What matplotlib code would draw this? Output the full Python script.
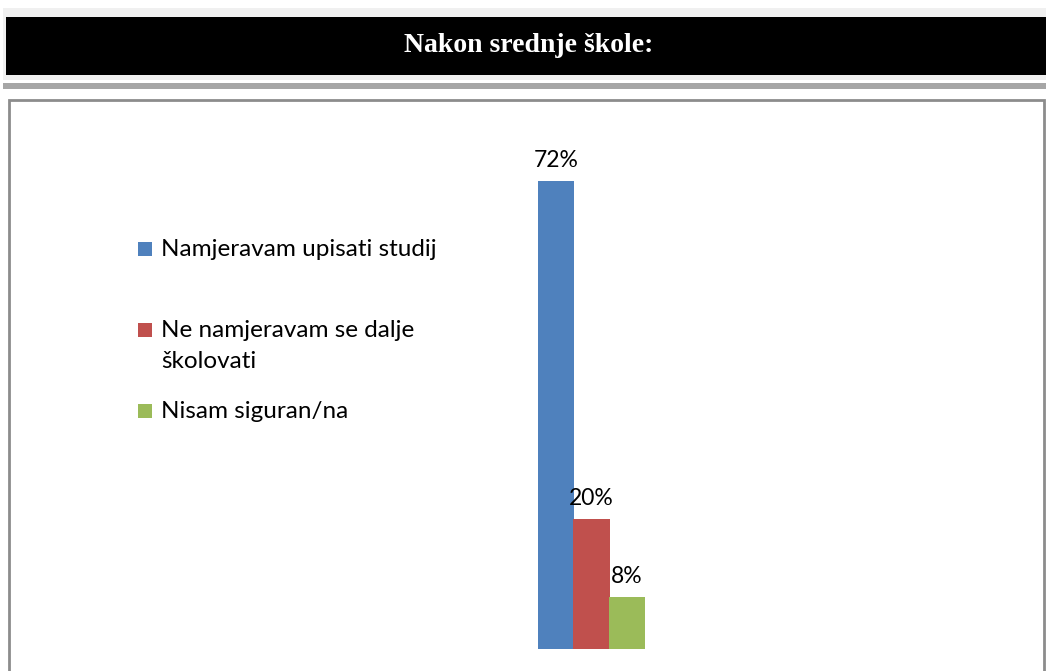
import numpy as np
import matplotlib
matplotlib.use('Agg')
import matplotlib.pyplot as plt
from matplotlib.patches import Rectangle

title = 'Nakon srednje škole:'
categories = ['Namjeravam upisati studij', 'Ne namjeravam se dalje\nškolovati', 'Nisam siguran/na']
values = [72, 20, 8]
colors = ['#4f81bd', '#c0504d', '#9bbb59']

W, H = 1046, 671
fig = plt.figure(figsize=(W / 100, H / 100), dpi=100)
fig.patch.set_facecolor('white')


def box(x0, y0, x1, y1, **kw):
    # pixel coords (top-left origin) -> figure rectangle
    r = Rectangle((x0 / W, 1 - y1 / H), (x1 - x0) / W, (y1 - y0) / H,
                  transform=fig.transFigure, **kw)
    fig.add_artist(r)


# header block
box(3, 8, W, 80, facecolor='#f0f0f0', edgecolor='none')
box(6, 17, W, 75, facecolor='black', edgecolor='none')
box(3, 83, W, 89, facecolor='#a6a6a6', edgecolor='none')
fig.text(529 / W, 1 - 45 / H, title, color='white', ha='center', va='center',
         fontsize=20, fontweight='bold', family='Liberation Serif')

# chart frame
box(9, 100, 1044, H + 10, facecolor='none', edgecolor='#8c8c8c', linewidth=2)

# bars
step = 35.5
ax = fig.add_axes([(556 - 1.5 * step) / W, 22 / H, 5 * step / W, 520 / H])
x = np.arange(len(values))
bars = ax.bar(x, values, width=1.03, color=colors)
ax.set_xlim(-1.5, 3.5)
ax.set_ylim(0, 80)
ax.axis('off')
for b, v in zip(bars, values):
    ax.annotate(f'{v}%', (b.get_x() + b.get_width() / 2, v), xytext=(0, 7),
                textcoords='offset points', ha='center', va='bottom',
                fontsize=16.5, family='Lato')

# legend
ys = [249, 330, 411]
for lab, c, y in zip(categories, colors, ys):
    box(138, y - 7, 152, y + 7, facecolor=c, edgecolor='none')
    fig.text(161 / W, 1 - (y - 10) / H, lab, ha='left', va='top',
             fontsize=17.5, family='Lato', linespacing=1.6)

fig.savefig('out.png', dpi=100)
